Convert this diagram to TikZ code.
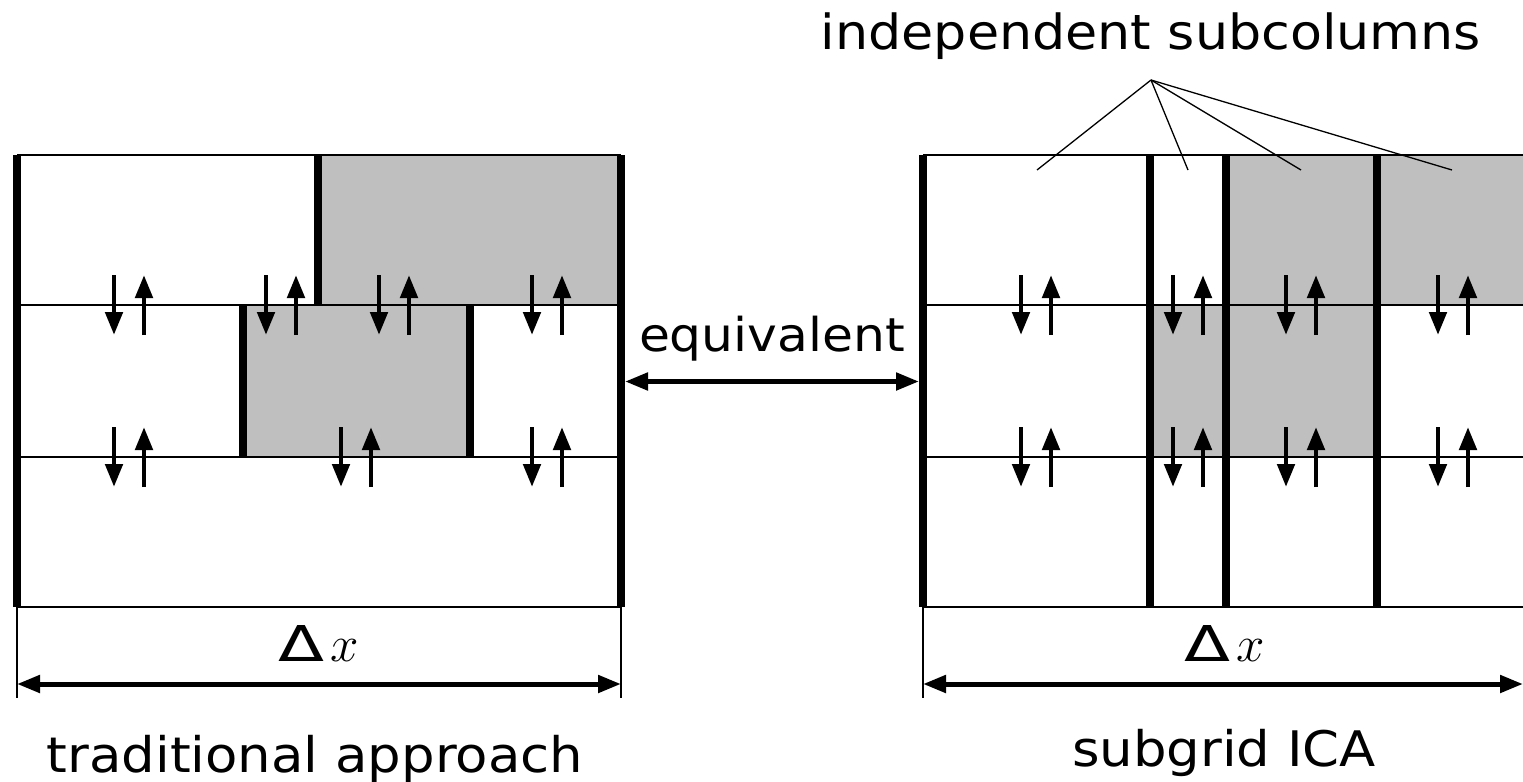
\documentclass[tikz,border=0pt]{standalone}
\usepackage{fix-cm}
\usepackage{graphicx}
\usepackage{fontspec}
\setmainfont[FakeStretch=1.08]{DejaVu Sans}
\usetikzlibrary{arrows.meta}
\newcommand{\deltax}{\resizebox{23pt}{18pt}{Δ}\hspace{3pt}{\fontsize{25.5}{28}\selectfont$x$}}
\begin{document}
\begin{tikzpicture}[x=0.5pt,y=-0.5pt,
  hair/.style={line width=0.65pt},
  wall/.style={line width=3.6pt},
  cell/.style={fill=black!25},
  flux/.style={line width=2.4pt,-{Triangle[length=11.5pt,width=8.5pt]}},
  dimline/.style={line width=2.5pt,{Triangle[length=11.5pt,width=8.5pt]}-{Triangle[length=11.5pt,width=8.5pt]}},
  txt/.style={font=\fontsize{24.2}{28}\selectfont, inner sep=0pt, anchor=base}]

\useasboundingbox (0,0) rectangle (1523,782);

% ---------- left panel: traditional approach ----------
\fill[cell] (318,155) rectangle (621,305);
\fill[cell] (243,305) rectangle (470,457);
\foreach \y in {155,305,457,607} \draw[hair] (17,\y) -- (621,\y);
\draw[wall] (17,155) -- (17,607);
\draw[wall] (621,155) -- (621,607);
\draw[wall] (318,155) -- (318,305);
\draw[wall] (243,305) -- (243,457);
\draw[wall] (470,305) -- (470,457);

% exchange arrows at the cell interfaces
\foreach \x/\y in {114/305,266/305,379/305,532/305,114/457,341/457,532/457}{
  \draw[flux] (\x,\y-30) -- (\x,\y+30);
  \draw[flux] (\x+30,\y+30) -- (\x+30,\y-30);
}

% ---------- right panel: subgrid ICA ----------
\fill[cell] (1150,305) rectangle (1226,457);
\fill[cell] (1226,155) rectangle (1377,457);
\fill[cell] (1377,155) rectangle (1530,305);
\foreach \y in {155,305,457,607} \draw[hair] (923,\y) -- (1530,\y);
\foreach \x in {923,1150,1226,1377} \draw[wall] (\x,155) -- (\x,607);

\foreach \x in {1021,1173,1286,1438}{
  \foreach \y in {305,457}{
    \draw[flux] (\x,\y-30) -- (\x,\y+30);
    \draw[flux] (\x+30,\y+30) -- (\x+30,\y-30);
  }
}

% ---------- equivalence arrow ----------
\coordinate (eqL) at (625,381.5);
\coordinate (eqR) at (919,381.5);
\draw[dimline] (eqL) -- (eqR);
\node[txt, font=\fontsize{23.3}{27}\selectfont] (equiv) at (772,351.5) {equivalent};

% ---------- width dimensions ----------
\coordinate (a1) at (17,607);  \coordinate (a1b) at (17,698);
\coordinate (a2) at (621,607); \coordinate (a2b) at (621,698);
\coordinate (b1) at (923,607); \coordinate (b1b) at (923,698);
\draw[hair] (a1) -- (a1b);
\draw[hair] (a2) -- (a2b);
\draw[hair] (b1) -- (b1b);
\coordinate (da1) at (17,684);  \coordinate (da2) at (621,684);
\coordinate (db1) at (923,684); \coordinate (db2) at (1523,684);
\draw[dimline] (da1) -- (da2);
\draw[dimline] (db1) -- (db2);
\node[txt] (dxL) at (319,661) {\deltax};
\node[txt] (dxR) at (1225,661) {\deltax};

% ---------- captions ----------
\node[txt, font=\fontsize{24.5}{28}\selectfont] (trad) at (315,772) {traditional approach};
\node[txt, font=\fontsize{24.5}{28}\selectfont] (sub) at (1224,766) {subgrid ICA};
\node[txt] (indep) at (1151,49) {independent subcolumns};

% leader lines to the subcolumns
\coordinate (hub) at (1151,80);
\coordinate (s1) at (1037,170);
\coordinate (s2) at (1188,170);
\coordinate (s3) at (1301,170);
\coordinate (s4) at (1452,170);
\foreach \s in {s1,s2,s3,s4} \draw[hair] (hub) -- (\s);
\end{tikzpicture}
\end{document}
